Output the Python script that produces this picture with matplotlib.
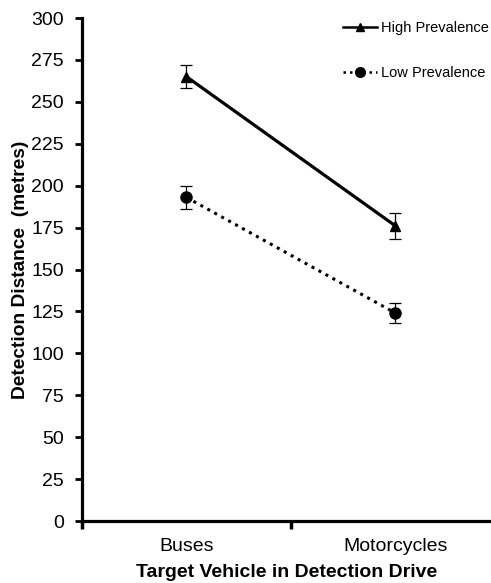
import numpy as np
import matplotlib.pyplot as plt
from matplotlib.lines import Line2D
from matplotlib.ticker import FixedLocator, NullFormatter

plt.rcParams['font.family'] = ['Liberation Sans', 'DejaVu Sans']

# dados
veiculos = ["Buses", "Motorcycles"]
alta_media = [265, 176]
alta_erro = [7, 8]
baixa_media = [193, 124]
baixa_erro = [7, 6]
y_ticks = list(range(0, 301, 25))

x = np.arange(len(veiculos)) + 0.5

fig = plt.figure(figsize=(4.91, 5.83), dpi=100)
ax = fig.add_axes([0.167, 0.1063, 0.833, 0.8628])

# linhas com barras de erro
ax.errorbar(x, alta_media, yerr=alta_erro, color='black', lw=2.3, marker='^',
            markersize=7.5, ecolor='black', elinewidth=0.9, capsize=4, capthick=0.9,
            zorder=3)
ax.errorbar(x, baixa_media, yerr=baixa_erro, color='black', lw=2.2, ls=(0, (1, 1.6)),
            marker='o', markersize=8, ecolor='black', elinewidth=0.9, capsize=4,
            capthick=0.9, zorder=3)

ax.set_xlim(0, 409 / 209)
ax.set_ylim(0, 300)
ax.set_yticks(y_ticks)
ax.tick_params(axis='y', direction='out', length=5, width=2, labelsize=14, pad=8)

# marcas do eixo x entre as categorias, rótulos no centro
ax.xaxis.set_major_locator(FixedLocator([0, 1, 2]))
ax.xaxis.set_major_formatter(NullFormatter())
ax.xaxis.set_minor_locator(FixedLocator(x))
ax.set_xticklabels(veiculos, minor=True)
ax.tick_params(axis='x', which='major', direction='out', length=6, width=2.5)
ax.tick_params(axis='x', which='minor', length=0, labelsize=14, pad=12)

for lado in ['top', 'right']:
    ax.spines[lado].set_visible(False)
for lado in ['left', 'bottom']:
    ax.spines[lado].set_linewidth(2.3)

ax.set_xlabel('Target Vehicle in Detection Drive', fontsize=14, fontweight='bold', labelpad=7)
ax.set_ylabel('Detection Distance  (metres)', fontsize=13.8, fontweight='bold', labelpad=2)

# legenda sem as barras de erro
itens = [Line2D([], [], color='black', lw=1.8, marker='^', markersize=6),
         Line2D([], [], color='black', lw=1.8, ls=(0, (1, 1.6)), marker='o', markersize=7)]
ax.legend(itens, ['High Prevalence', 'Low Prevalence'], loc='upper right',
          bbox_to_anchor=(1.01, 1.006), frameon=False, fontsize=10.5,
          handlelength=2.3, handletextpad=0.3, labelspacing=2.15, borderaxespad=0)

fig.savefig('out.png', dpi=100)
